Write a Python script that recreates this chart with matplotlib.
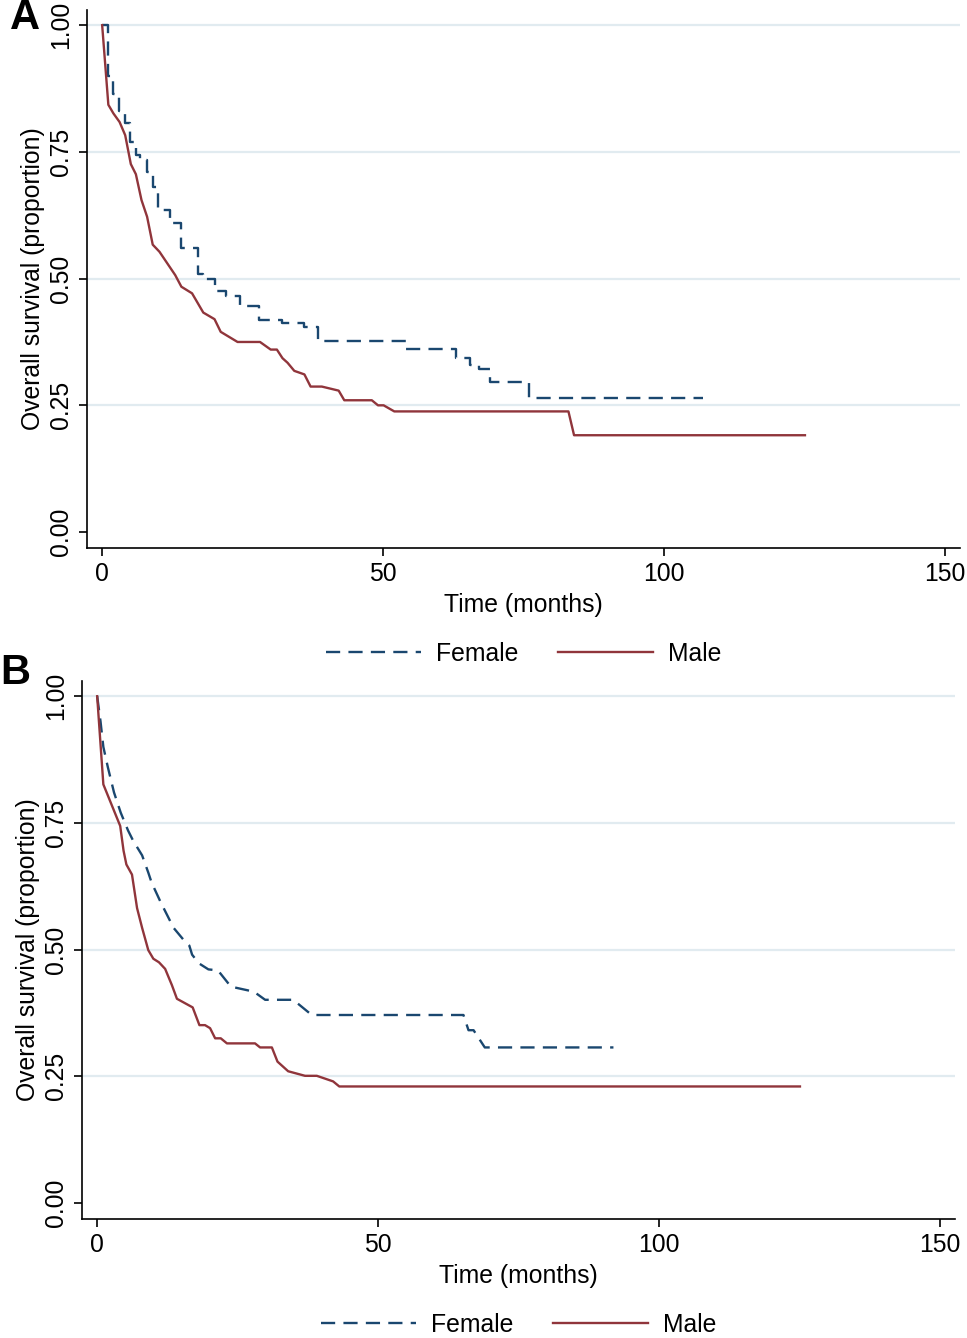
import matplotlib.pyplot as plt
import numpy as np

plt.rcParams['font.family'] = ['Liberation Sans', 'DejaVu Sans']

# Panel A - female (step curve)
fa_t = [0, 1.0, 2.0, 3.0, 4.0, 5.0, 6.0, 6.7, 8.0, 9.0, 10.0, 12.0, 14.0, 17.0, 18.0,
        20.0, 22.0, 24.5, 28.0, 32.0, 36.0, 38.5, 54.0, 63.0, 65.5, 67.0, 69.0, 76.0, 107.0]
fa_s = [1.0, 0.90, 0.865, 0.83, 0.807, 0.77, 0.744, 0.734, 0.71, 0.68, 0.635, 0.61, 0.56, 0.51, 0.50,
        0.475, 0.466, 0.445, 0.418, 0.413, 0.404, 0.377, 0.362, 0.343, 0.33, 0.321, 0.296, 0.264, 0.264]

# Panel A - male
ma_t = [0, 1.1, 2.0, 3.1, 4.1, 5.1, 6.0, 7.0, 8.0, 9.0, 10.2, 13.0, 14.1, 16.0, 18.0, 20.0, 21.1,
        24.1, 28.1, 30.0, 31.1, 32.1, 33.0, 34.2, 36.0, 37.1, 39.1, 42.1, 43.1, 48.0, 49.1, 50.1,
        52.0, 83.0, 84.0, 125.1]
ma_s = [1.0, 0.843, 0.826, 0.809, 0.783, 0.726, 0.706, 0.655, 0.622, 0.567, 0.553, 0.507, 0.484,
        0.471, 0.433, 0.420, 0.395, 0.375, 0.375, 0.360, 0.360, 0.343, 0.334, 0.318, 0.311, 0.287,
        0.287, 0.279, 0.260, 0.260, 0.250, 0.250, 0.238, 0.238, 0.191, 0.191]

# Panel B - female
fb_t = [0, 0.6, 1.1, 1.9, 3.0, 4.2, 5.5, 6.4, 8.0, 9.1, 9.7, 11.2, 12.1, 13.6, 15.4, 16.4, 16.9,
        18.1, 19.8, 21.5, 23.8, 27.9, 29.9, 34.9, 38.2, 65.2, 66.1, 67.0, 69.0, 91.9]
fb_s = [1.0, 0.95, 0.90, 0.86, 0.81, 0.77, 0.735, 0.715, 0.686, 0.652, 0.632, 0.596, 0.576, 0.543,
        0.519, 0.508, 0.490, 0.473, 0.461, 0.459, 0.427, 0.417, 0.401, 0.401, 0.371, 0.371, 0.341,
        0.341, 0.307, 0.307]

# Panel B - male
mb_t = [0, 1.1, 4.1, 4.7, 5.2, 6.2, 7.1, 8.0, 9.1, 10.0, 11.0, 12.1, 13.3, 14.2, 17.0, 18.2, 19.2,
        20.1, 21.0, 22.0, 23.1, 28.1, 29.0, 31.1, 32.1, 34.0, 37.0, 39.1, 42.0, 43.1, 125.1]
mb_s = [1.0, 0.826, 0.744, 0.695, 0.668, 0.648, 0.582, 0.543, 0.499, 0.482, 0.475, 0.462, 0.430,
        0.403, 0.386, 0.351, 0.351, 0.345, 0.325, 0.325, 0.315, 0.315, 0.307, 0.307, 0.279, 0.260,
        0.251, 0.251, 0.240, 0.230, 0.230]

navy = '#1a476f'
maroon = '#90353b'
gridc = '#e1ebf0'
fs = 17.8

fig = plt.figure(figsize=(9.67, 13.38), dpi=100)
ax_a = fig.add_axes([87 / 967, 1 - 548 / 1338, 873 / 967, 538 / 1338])
ax_b = fig.add_axes([82 / 967, 1 - 1219 / 1338, 873 / 967, 538 / 1338])

panels = [(ax_a, fa_t, fa_s, 'steps-post', ma_t, ma_s),
          (ax_b, fb_t, fb_s, 'default', mb_t, mb_s)]

for ax, ft, fsv, fds, mt, msv in panels:
    for g in [0.25, 0.5, 0.75, 1.0]:
        ax.axhline(g, color=gridc, lw=1.6, zorder=0)
    ax.plot(ft, fsv, color=navy, lw=1.7, ls=(0, (6, 3.5)), drawstyle=fds, label='Female')
    ax.plot(mt, msv, color=maroon, lw=1.7, label='Male')
    ax.set_xlim(-2.7, 152.7)
    ax.set_ylim(-0.0315, 1.03)
    ax.set_xticks([0, 50, 100, 150])
    ax.set_yticks([0, 0.25, 0.5, 0.75, 1.0])
    ax.set_yticklabels(['0.00', '0.25', '0.50', '0.75', '1.00'], rotation=90, va='center')
    ax.tick_params(labelsize=fs, length=6, width=1.2, pad=4)
    for side in ['top', 'right']:
        ax.spines[side].set_visible(False)
    for side in ['left', 'bottom']:
        ax.spines[side].set_linewidth(1.2)
    ax.set_xlabel('Time (months)', fontsize=fs, labelpad=5)
    ax.set_ylabel('Overall survival (proportion)', fontsize=fs, labelpad=3)
    ax.legend(loc='center', bbox_to_anchor=(0.5, -0.197), ncol=2, frameon=False, fontsize=fs,
              handlelength=3.85, columnspacing=1.6, handletextpad=0.6)

fig.text(10 / 967, 1 - 18 / 1338, 'A', fontsize=30, fontweight='bold', va='center', ha='left')
fig.text(0 / 967, 1 - 673 / 1338, 'B', fontsize=30, fontweight='bold', va='center', ha='left')

fig.savefig('out.png', dpi=100)
